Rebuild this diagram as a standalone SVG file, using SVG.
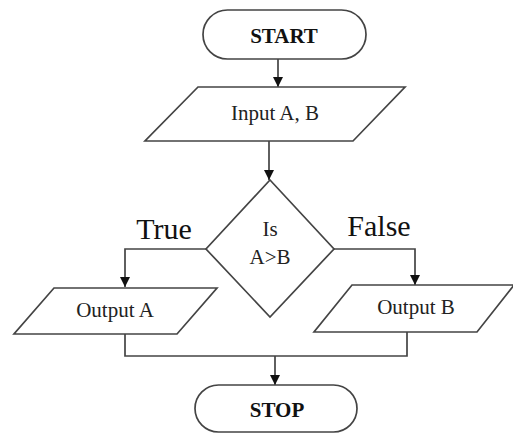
<svg xmlns="http://www.w3.org/2000/svg" width="513" height="433" viewBox="0 0 513 433">
  <defs>
    <marker id="arrow" viewBox="0 0 10 10" refX="10" refY="5" markerWidth="10" markerHeight="10" markerUnits="userSpaceOnUse" orient="auto">
      <path d="M0,0 L10,5 L0,10 Z" fill="#111"/>
    </marker>
  </defs>
  <style>
    .shape { fill: #fff; stroke: #444; stroke-width: 1.7; }
    .line { fill: none; stroke: #444; stroke-width: 1.7; }
    .label { font-family: "Liberation Serif", "Times New Roman", serif; font-size: 21px; fill: #222; text-anchor: middle; }
    .term { font-family: "Liberation Serif", "Times New Roman", serif; font-size: 21px; font-weight: bold; fill: #111; text-anchor: middle; }
    .branch { font-family: "Liberation Serif", "Times New Roman", serif; font-size: 30px; fill: #111; text-anchor: middle; }
  </style>
  <rect width="513" height="433" fill="#fff"/>

  <g id="connectors">
    <path class="line" d="M278,59 V87" marker-end="url(#arrow)"/>
    <path class="line" d="M269,141 V180" marker-end="url(#arrow)"/>
    <path class="line" d="M206,249 H125 V287" marker-end="url(#arrow)"/>
    <path class="line" d="M334,249 H415 V285" marker-end="url(#arrow)"/>
    <path class="line" d="M125,334 V356 H407 V332"/>
    <path class="line" d="M275,356 V385" marker-end="url(#arrow)"/>
    <text class="branch" x="164" y="239">True</text>
    <text class="branch" x="379" y="236">False</text>
  </g>

  <g id="start">
    <rect class="shape" x="203" y="10" width="163" height="49" rx="24.5"/>
    <text class="term" x="284" y="43">START</text>
  </g>

  <g id="input">
    <polygon class="shape" points="198,87 405,87 353,141 145,141"/>
    <text class="label" x="275" y="120">Input A, B</text>
  </g>

  <g id="decision">
    <polygon class="shape" points="270,180 334,249 270,317 206,249"/>
    <text class="label" x="270" y="236">Is</text>
    <text class="label" x="270" y="264">A&gt;B</text>
  </g>

  <g id="output-a">
    <polygon class="shape" points="54,288 217,288 177,334 14,334"/>
    <text class="label" x="115" y="317">Output A</text>
  </g>

  <g id="output-b">
    <polygon class="shape" points="352,285 514,285 477,332 314,332"/>
    <text class="label" x="416" y="314">Output B</text>
  </g>

  <g id="stop">
    <rect class="shape" x="195" y="385" width="162" height="47" rx="23.5"/>
    <text class="term" x="277" y="417">STOP</text>
  </g>
</svg>
